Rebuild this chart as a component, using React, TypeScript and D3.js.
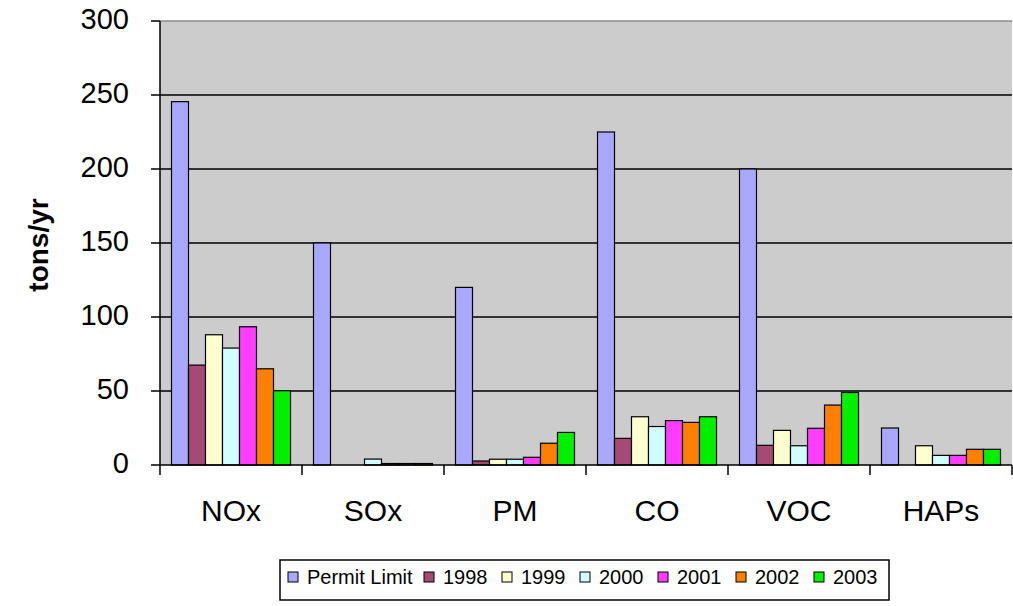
import React from 'react';
import * as d3 from 'd3';

const categories = ['NOx', 'SOx', 'PM', 'CO', 'VOC', 'HAPs'];
const seriesNames = ['Permit Limit', '1998', '1999', '2000', '2001', '2002', '2003'];
const seriesColors = ['#A8A8FF', '#A54A75', '#FFFFD0', '#D0FFFF', '#FF3CFF', '#FF8000', '#00F000'];

const permitLimit = [245.5, 150, 120, 225, 200, 25];
const y1998 = [67.5, 0, 2.7, 18, 13.3, 0];
const y1999 = [88, 0, 3.9, 32.6, 23.4, 13];
const y2000 = [79, 4, 3.9, 26, 13, 6.5];
const y2001 = [93.4, 1, 5.2, 30, 24.8, 6.5];
const y2002 = [65, 1, 14.7, 28.8, 40.5, 10.6];
const y2003 = [50.2, 1, 22, 32.6, 49, 10.6];

const seriesValues = [permitLimit, y1998, y1999, y2000, y2001, y2002, y2003];
const yTicks = [0, 50, 100, 150, 200, 250, 300];

const W = 1013;
const H = 606;
const plot = { left: 160, right: 1012, top: 21, bottom: 465 };

const App: React.FC = () => {
  const x = d3.scaleBand<string>().domain(categories).range([plot.left, plot.right]).padding(0);
  const inner = d3
    .scaleBand<string>()
    .domain(seriesNames)
    .range([11.5, x.bandwidth() - 11.5])
    .padding(0);
  const y = d3.scaleLinear().domain([0, 300]).range([plot.bottom, plot.top]);

  // legend items: first one wider because of its longer label
  const legendItemWidths = seriesNames.map((n, i) => (i === 0 ? 136 : 78));
  const legendX = legendItemWidths.map((_, i) => 288 + d3.sum(legendItemWidths.slice(0, i)));

  return (
    <svg
      width={W}
      height={H}
      style={{ position: 'absolute', left: 0, top: 0, fontFamily: 'Liberation Sans, Arial, sans-serif' }}
    >
      <rect x={0} y={0} width={W} height={H} fill="#ffffff" />
      {/* plot area */}
      <rect
        x={plot.left}
        y={plot.top}
        width={plot.right - plot.left}
        height={plot.bottom - plot.top}
        fill="#CCCCCC"
      />
      <line x1={plot.left} x2={plot.right} y1={y(300)} y2={y(300)} stroke="#8c8c8c" strokeWidth={1.5} />
      {yTicks
        .filter(t => t > 0 && t < 300)
        .map(t => (
          <line key={t} x1={plot.left} x2={plot.right} y1={y(t)} y2={y(t)} stroke="#000" strokeWidth={1.5} />
        ))}

      {/* bars */}
      {categories.map((c, ci) => (
        <g key={c} transform={`translate(${x(c)},0)`}>
          {seriesNames.map((s, si) => {
            const v = seriesValues[si][ci];
            if (v <= 0) return null;
            return (
              <rect
                key={s}
                x={inner(s)}
                y={y(v)}
                width={inner.bandwidth()}
                height={y(0) - y(v)}
                fill={seriesColors[si]}
                stroke="#000"
                strokeWidth={1.2}
              />
            );
          })}
        </g>
      ))}

      {/* axes */}
      <line x1={plot.left} x2={plot.left} y1={plot.top} y2={plot.bottom} stroke="#000" strokeWidth={1.5} />
      <line x1={plot.left} x2={plot.right} y1={plot.bottom} y2={plot.bottom} stroke="#000" strokeWidth={1.5} />
      {yTicks.map(t => (
        <g key={t}>
          <line x1={plot.left - 9} x2={plot.left} y1={y(t)} y2={y(t)} stroke="#000" strokeWidth={1.5} />
          <text x={129} y={y(t) + 7.5} textAnchor="end" fontSize={29} fill="#000">
            {t}
          </text>
        </g>
      ))}
      {[...categories.map(c => x(c) as number), plot.right].map((bx, i) => (
        <line key={i} x1={bx} x2={bx} y1={plot.bottom} y2={plot.bottom + 10} stroke="#000" strokeWidth={1.5} />
      ))}
      {categories.map(c => (
        <text
          key={c}
          x={(x(c) as number) + x.bandwidth() / 2}
          y={521}
          textAnchor="middle"
          fontSize={30}
          fill="#000"
        >
          {c}
        </text>
      ))}
      <text
        transform={`translate(48,245) rotate(-90)`}
        textAnchor="middle"
        fontSize={28}
        fontWeight="bold"
        fill="#000"
      >
        tons/yr
      </text>

      {/* legend */}
      <rect x={280} y={560} width={609} height={40} fill="#fff" stroke="#000" strokeWidth={1.5} />
      {seriesNames.map((s, i) => (
        <g key={s} transform={`translate(${legendX[i]},0)`}>
          <rect x={0} y={572} width={10} height={10} fill={seriesColors[i]} stroke="#000" strokeWidth={1} />
          <text x={19} y={584} fontSize={20} fill="#000">
            {s}
          </text>
        </g>
      ))}
    </svg>
  );
};

export default App;
